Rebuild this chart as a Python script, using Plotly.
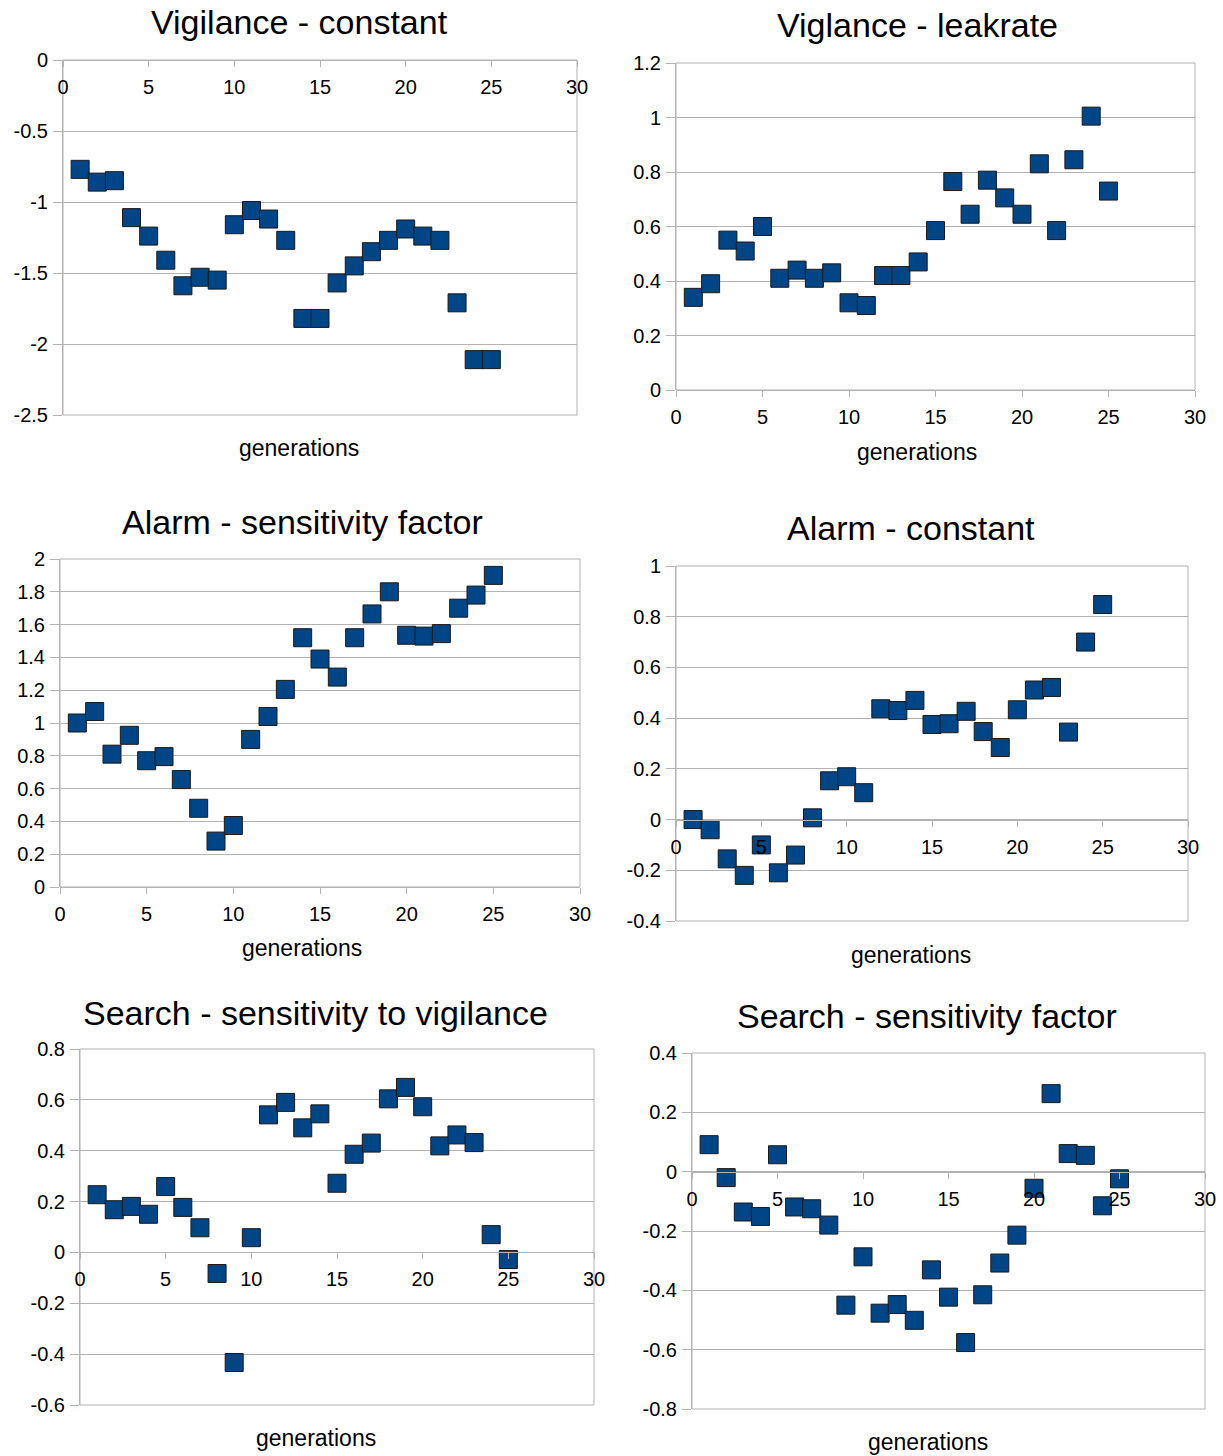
import plotly.graph_objects as go

W, H = 1223, 1456

generations = [1, 2, 3, 4, 5, 6, 7, 8, 9, 10, 11, 12, 13, 14, 15, 16, 17, 18, 19, 20, 21, 22, 23, 24, 25]

vigilance_constant = [-0.77, -0.86, -0.85, -1.11, -1.24, -1.41, -1.59, -1.53, -1.55, -1.16, -1.06, -1.12,
                      -1.27, -1.82, -1.82, -1.57, -1.45, -1.35, -1.27, -1.19, -1.24, -1.27, -1.71, -2.11, -2.11]
vigilance_leakrate = [0.34, 0.39, 0.55, 0.51, 0.60, 0.41, 0.44, 0.41, 0.43, 0.32, 0.31, 0.42,
                      0.42, 0.47, 0.585, 0.765, 0.645, 0.77, 0.705, 0.645, 0.83, 0.585, 0.845, 1.005, 0.73]
alarm_sensitivity = [1.00, 1.07, 0.81, 0.925, 0.77, 0.795, 0.655, 0.48, 0.28, 0.375, 0.90, 1.04,
                     1.205, 1.52, 1.39, 1.28, 1.52, 1.665, 1.80, 1.535, 1.53, 1.545, 1.70, 1.78, 1.90]
alarm_constant = [0.0, -0.04, -0.155, -0.22, -0.10, -0.21, -0.14, 0.007, 0.153, 0.169, 0.106, 0.437,
                  0.43, 0.47, 0.375, 0.378, 0.427, 0.347, 0.284, 0.433, 0.511, 0.521, 0.345, 0.70, 0.848]
search_vigilance = [0.227, 0.168, 0.181, 0.15, 0.259, 0.177, 0.097, -0.083, -0.433, 0.058, 0.541, 0.59,
                    0.49, 0.545, 0.272, 0.386, 0.43, 0.604, 0.649, 0.573, 0.419, 0.462, 0.432, 0.07, -0.028]
search_sensitivity = [0.091, -0.02, -0.136, -0.151, 0.057, -0.119, -0.125, -0.18, -0.45, -0.287, -0.477, -0.448,
                      -0.501, -0.331, -0.423, -0.576, -0.415, -0.308, -0.214, -0.056, 0.263, 0.061, 0.055, -0.115, -0.024]

titles = ["Vigilance - constant", "Viglance - leakrate", "Alarm - sensitivity factor",
          "Alarm - constant", "Search - sensitivity to vigilance", "Search - sensitivity factor"]
x_title = "generations"

x_tickvals = [0, 5, 10, 15, 20, 25, 30]
x_ticktext = ["0", "5", "10", "15", "20", "25", "30"]

y_ticks = [
    ([-2.5, -2, -1.5, -1, -0.5, 0], ["-2.5", "-2", "-1.5", "-1", "-0.5", "0"]),
    ([0, 0.2, 0.4, 0.6, 0.8, 1, 1.2], ["0", "0.2", "0.4", "0.6", "0.8", "1", "1.2"]),
    ([0, 0.2, 0.4, 0.6, 0.8, 1, 1.2, 1.4, 1.6, 1.8, 2],
     ["0", "0.2", "0.4", "0.6", "0.8", "1", "1.2", "1.4", "1.6", "1.8", "2"]),
    ([-0.4, -0.2, 0, 0.2, 0.4, 0.6, 0.8, 1], ["-0.4", "-0.2", "0", "0.2", "0.4", "0.6", "0.8", "1"]),
    ([-0.6, -0.4, -0.2, 0, 0.2, 0.4, 0.6, 0.8], ["-0.6", "-0.4", "-0.2", "0", "0.2", "0.4", "0.6", "0.8"]),
    ([-0.8, -0.6, -0.4, -0.2, 0, 0.2, 0.4], ["-0.8", "-0.6", "-0.4", "-0.2", "0", "0.2", "0.4"]),
]
series = [vigilance_constant, vigilance_leakrate, alarm_sensitivity,
          alarm_constant, search_vigilance, search_sensitivity]

# layout (pixel boxes: x0, x1, ytop, ybottom), title centre, axis-title centre
boxes = [(63, 577, 60, 415), (676, 1195, 63, 390), (60, 580, 559, 887),
         (676, 1188, 566, 921), (80, 594, 1049, 1405), (692, 1205, 1053, 1409)]
title_pos = [(299, 22), (917, 25), (302, 522), (911, 528), (315, 1013), (927, 1016)]
xtitle_pos = [(299, 448), (917, 452), (302, 948), (911, 955), (316, 1438), (928, 1442)]

GRID = "#b3b3b3"
FONT = "Liberation Sans, Arial, sans-serif"

fig = go.Figure()
annotations = []
shapes = []
for i in range(6):
    n = "" if i == 0 else str(i + 1)
    x0, x1, yt, yb = boxes[i]
    xd = [x0 / W, x1 / W]
    yd = [1 - yb / H, 1 - yt / H]
    tv, tt = y_ticks[i]
    ymin, ymax = min(tv), max(tv)
    pos = yd[0] + (0 - ymin) / (ymax - ymin) * (yd[1] - yd[0])

    fig.add_trace(go.Scatter(
        x=generations, y=series[i], mode="markers",
        xaxis="x" + n, yaxis="y" + n, showlegend=False,
        marker=dict(symbol="square", size=18, color="#004586",
                    line=dict(color="#1a1a1a", width=1)),
    ))
    fig.layout["xaxis" + n] = dict(
        domain=xd, range=[0, 30], anchor="free", position=pos, side="bottom",
        tickvals=x_tickvals, ticktext=x_ticktext, ticks="outside", ticklen=6,
        tickcolor=GRID, showgrid=False, zeroline=False, showline=True,
        linecolor=GRID, linewidth=1, automargin=False, ticklabelstandoff=3,
        tickfont=dict(family=FONT, size=20, color="black"),
    )
    fig.layout["yaxis" + n] = dict(
        domain=yd, range=[ymin, ymax], anchor="x" + n,
        tickvals=tv, ticktext=tt, ticks="outside", ticklen=9,
        tickcolor=GRID, showgrid=True, gridcolor=GRID, gridwidth=1,
        zeroline=False, showline=True, linecolor=GRID, linewidth=1,
        automargin=False, ticklabelstandoff=1,
        tickfont=dict(family=FONT, size=20, color="black"),
    )
    shapes.append(dict(type="rect", xref="x" + n + " domain", yref="y" + n + " domain",
                       x0=0, x1=1, y0=0, y1=1, line=dict(color=GRID, width=1), layer="below"))
    tx, ty = title_pos[i]
    annotations.append(dict(text=titles[i], x=tx / W, y=1 - ty / H, xref="paper", yref="paper",
                            showarrow=False, xanchor="center", yanchor="middle",
                            font=dict(family=FONT, size=34, color="black")))
    gx, gy = xtitle_pos[i]
    annotations.append(dict(text=x_title, x=gx / W, y=1 - gy / H, xref="paper", yref="paper",
                            showarrow=False, xanchor="center", yanchor="middle",
                            font=dict(family=FONT, size=23, color="black")))

fig.update_layout(
    width=W, height=H, autosize=False,
    margin=dict(l=0, r=0, t=0, b=0),
    paper_bgcolor="white", plot_bgcolor="white",
    annotations=annotations, shapes=shapes,
)
fig.write_html("out.html")
